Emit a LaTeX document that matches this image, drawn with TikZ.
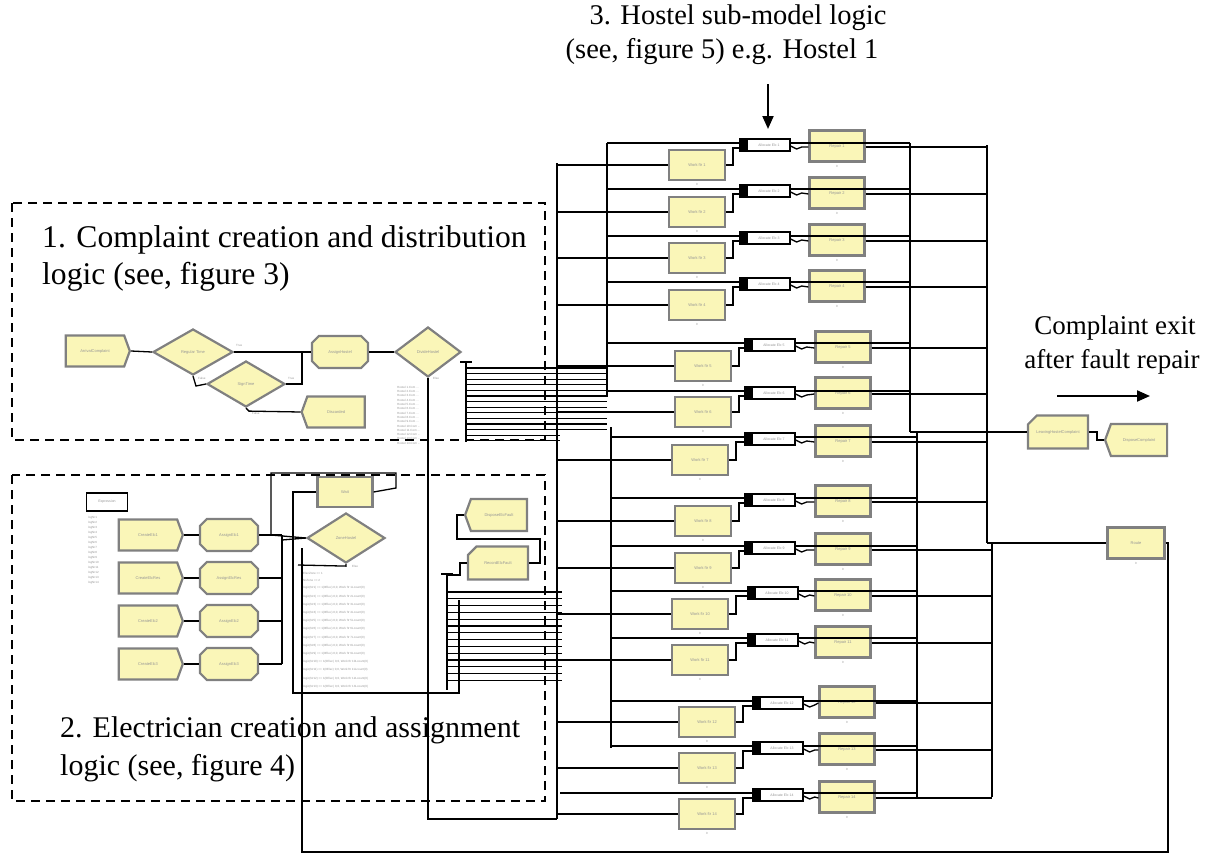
\documentclass[tikz,border=0pt]{standalone}
\usepackage{fontspec}
\setmainfont{Liberation Serif}
\newfontfamily\tinyf{Liberation Sans}
\usetikzlibrary{shapes.geometric,shapes.symbols,shapes.misc,arrows.meta}
\definecolor{ayellow}{RGB}{250,246,184}
\definecolor{agray}{RGB}{128,128,128}
\definecolor{lgray}{RGB}{150,150,150}
\begin{document}
\begin{tikzpicture}[x=1pt,y=-1pt,
  wire/.style={draw=black, line width=1.3pt},
  ab/.style={draw=agray, line width=2.2pt, fill=ayellow, inner sep=0pt, font=\tinyf\fontsize{4}{4}\selectfont, text=lgray},
  proc/.style={ab, rectangle, minimum width=56pt, minimum height=30pt},
  crt/.style={ab, signal, signal to=east, signal pointer angle=140, minimum width=64pt, minimum height=31pt},
  disp/.style={ab, signal, signal to=west, signal pointer angle=140, minimum width=62pt, minimum height=32pt},
  asg/.style={ab, chamfered rectangle, chamfered rectangle xsep=5pt, chamfered rectangle ysep=5pt, minimum width=56pt, minimum height=32pt},
  rec/.style={ab, chamfered rectangle, chamfered rectangle corners=north west, chamfered rectangle xsep=7pt, chamfered rectangle ysep=7pt, minimum width=60pt, minimum height=33pt},
  dec/.style={ab, diamond, minimum width=78pt, minimum height=46pt},
  alloc/.style={draw=black, line width=1.3pt, fill=white, rectangle, minimum width=50pt, minimum height=12pt, inner sep=0pt, font=\tinyf\fontsize{3.5}{3.5}\selectfont, text=lgray},
  expr/.style={draw=black, line width=1.5pt, fill=white, rectangle, minimum width=41pt, minimum height=18pt, inner sep=0pt, font=\tinyf\fontsize{3.5}{3.5}\selectfont, text=lgray},
  tiny/.style={inner sep=0pt, font=\tinyf\fontsize{3}{3}\selectfont, text=lgray, anchor=west},
  cnt/.style={inner sep=0pt, font=\tinyf\fontsize{3}{3}\selectfont, text=lgray},
  big/.style={inner sep=0pt, font=\fontsize{30}{36}\selectfont, anchor=west},
  bigA/.style={inner sep=0pt, font=\fontsize{31.6}{38}\selectfont, anchor=west},
  ttl/.style={inner sep=0pt, font=\fontsize{28.5}{34}\selectfont},
  exl/.style={inner sep=0pt, font=\fontsize{27}{32}\selectfont},
  grp/.style={draw=black, line width=1.6pt, dash pattern=on 9pt off 6pt}
]
\useasboundingbox (0,0) rectangle (1205,854);

% ---------- big labels ----------
\node[ttl] (t3a) at (738,18) {3. Hostel sub-model logic};
\node[ttl] (t3b) at (722,52) {(see, figure 5) e.g. Hostel 1};
\coordinate (ar3s) at (768,84);
\coordinate (ar3e) at (768,129);
\draw[line width=2pt, -{Triangle[length=13pt,width=11pt]}] (ar3s) -- (ar3e);

\node[exl] (ex1) at (1115,328) {Complaint exit};
\node[exl] (ex2) at (1112,362) {after fault repair};
\coordinate (arxs) at (1057,396);
\coordinate (arxe) at (1150,396);
\draw[line width=2pt, -{Triangle[length=13pt,width=11pt]}] (arxs) -- (arxe);

% ---------- group boxes ----------
\draw[grp] (12,203) rectangle (545,440);
\draw[grp] (12,475) rectangle (545,801);
\node[bigA] (t1a) at (42,240) {1. Complaint creation and distribution};
\node[bigA] (t1b) at (42,277) {logic (see, figure 3)};
\node[big] (t2a) at (60,730) {2. Electrician creation and assignment};
\node[big] (t2b) at (60,768) {logic (see, figure 4)};

% ---------- global rails / buses ----------
\draw[wire] (557,163) -- (557,819);
\draw[wire] (607,143) -- (607,397);
\draw[wire] (611,427) -- (611,748);
\draw[wire] (910,143) -- (910,432);
\draw[wire] (917,432) -- (917,797);
\draw[wire] (992,543) -- (992,797);

% box 1 bundle
\draw[wire] (466,362) -- (466,442);
\draw[wire] (460,362) -- (472,362);
\foreach \k in {0,...,11} \draw[line width=1.1pt] (466,368+5.6*\k) -- (607,368+5.6*\k);
\foreach \k in {12,13} \draw[line width=1.1pt] (466,368+5.6*\k) -- (560,368+5.6*\k);
% box 2 bundle
\draw[wire] (447,574) -- (447,690);
\draw[wire] (441,574) -- (453,574);
\foreach \k in {0,...,13} \draw[line width=1.1pt] (447,592+6.8*\k) -- (562,592+6.8*\k);

% ---------- hostel rows ----------
\foreach \i/\wx/\wy/\ax/\ay/\rx/\ry/\xl/\xr/\xo in {
  1/697/165/765/145/837/146/607/910/987,
  2/697/212/765/191/837/193/607/910/987,
  3/697/258/765/238/837/240/607/910/987,
  4/697/305/765/284/837/286/607/910/987,
  5/703/366/770/345/843/347/607/910/987,
  6/703/412/770/393/843/393/607/910/987,
  7/700/460/770/439/843/441/611/917/987,
  8/703/521/770/500/843/501/611/917/987,
  9/703/568/770/548/843/549/611/917/992,
  10/700/614/773/593/843/595/611/917/992,
  11/700/660/773/640/843/642/611/917/992,
  12/707/722/778/703/847/702/611/917/992,
  13/707/768/778/748/847/749/611/917/992,
  14/707/814/778/795/847/797/560/917/992}{
  \node[proc] (w\i) at (\wx,\wy) {Work ftr \i};
  \node[cnt] (wc\i) at (\wx,\wy+19) {0};
  \node[proc, minimum width=55pt, minimum height=31pt] (r\i) at (\rx,\ry) {Repair \i};
  \node[cnt] (rc\i) at (\rx,\ry+20) {0};
  \node[alloc] (a\i) at (\ax,\ay) {\hspace{8pt}Allocate Elc \i};
  \fill ([xshift=2pt,yshift=5pt]a\i.west) rectangle ([xshift=9pt,yshift=-5pt]a\i.west);
  \draw[wire] (\xl,\ay-2) -- ([yshift=2pt]a\i.west);
  \draw[wire] ([yshift=2pt]a\i.east) -- (\xr,\ay-2);
  \draw[wire] (557,\wy) -- (w\i.west);
  \draw[wire] (w\i.east) -- ++(7,0) |- ([yshift=-3pt]a\i.west);
  \draw[wire] ([yshift=-1pt]a\i.east) -- ++(6,3) -- ++(5,-2) -- ([yshift=-1pt]r\i.west);
  \draw[wire] ([yshift=-1pt]r\i.east) -- (\xo,\ry+1);
}

% ---------- right side ----------
\node[rec] (L) at (1058,432) {LeavingHostelComplaint};
\node[disp] (DC) at (1139,440) {DisposeComplaint};
\node[proc, minimum width=57pt, minimum height=31pt] (Rt) at (1136,543) {Route};
\node[cnt] (Rtc) at (1136,563) {0};
\draw[wire] (910,432) -- (L.west);
\draw[wire] (L.east) -- (1097,432) -- (1097,440) -- (DC.west);
\draw[draw=black, line width=2.8pt] (987,145) -- (987,543);
\draw[wire] (987,543) -- (Rt.west);
\draw[wire] (Rt.east) -- (1168,543) -- (1168,852) -- (302,852) -- (302,548);

% ---------- box 1: complaint creation ----------
\node[crt] (Ar) at (95,351) {ArrivalComplaint};
\node[dec, minimum width=80pt] (Rg) at (193,352) {Regular Time};
\node[dec] (Sg) at (246,384) {SignTime};
\node[asg] (As) at (340,352) {AssignHostel};
\node[dec, minimum width=66pt, minimum height=50pt] (Dv) at (428,352) {DivideHostel};
\node[disp, minimum width=63pt, minimum height=31pt] (Ds) at (336,412) {Discarded};
\draw[wire] (Ar.east) -- (Rg.west);
\draw[wire] (Rg.east) -- (As.west);
\draw[wire] (Sg.east) -- (302,384) -- (302,352);
\draw[wire] (Rg.south) -- (196,386) -- (Sg.west);
\draw[wire] (Sg.south) -- ++(3,3) -- (Ds.west);
\draw[wire] (As.east) -- (Dv.west);
\draw[wire] (Dv.south) -- (428,819) -- (557,819);
\node[tiny] (lt1) at (236,345) {True};
\node[tiny] (lf1) at (198,378) {False};
\node[tiny] (lt2) at (288,378) {True};
\node[tiny] (lf2) at (252,413) {False};
\node[tiny] (ld) at (433,378) {Else};
\foreach \k in {1,...,14} \node[tiny] (dl\k) at (397,383+4.3*\k) {Hostel \k.Com ...};

% ---------- box 2: electricians ----------
\node[expr] (Ex) at (107,502) {Expression};
\foreach \k in {1,...,14} \node[tiny] (el\k) at (88,513+5*\k) {logNr\k};
\foreach \j/\yy/\cn/\an in {1/535/CreateElc1/AssignElc1, 2/578/CreateElcRes/AssignElcRes, 3/621/CreateElc2/AssignElc2, 4/664/CreateElc3/AssignElc3}{
  \node[crt, minimum width=64pt, minimum height=31pt] (C\j) at (148,\yy) {\cn};
  \node[asg, minimum width=58pt] (A\j) at (229,\yy) {\an};
  \draw[wire] (C\j.east) -- (A\j.west);
  \draw[wire] (A\j.east) -- (282,\yy);
}
\draw[wire] (282,535) -- (282,664);
\node[proc, minimum width=55pt] (Wt) at (345,492) {Wait};
\node[dec, minimum height=50pt] (Zn) at (346,538) {ZoneHostel};
\draw[wire] (Wt.east) -- (396,488) -- (396,473) -- (271,473) -- (271,535) -- (Zn.west);
\draw[wire] (282,540) -- (Zn.west);
\draw[wire] (Wt.west) -- (293,492) -- (293,693) -- (459,693) -- (459,600);
\draw[wire] (Zn.south) -- ++(0,2) -- (298,565);
\node[tiny] (lz) at (352,566) {Else};
\node[tiny] (zl1) at (303,573) {ElecZone == 1};
\node[tiny] (zl2) at (303,580) {NrZone == 2};
\foreach \k in {1,...,13} \node[tiny] (zl\k x) at (303,580+8.2*\k) {logic(Nr\k) == 1(0Elec) 0,0, Work ftr \k Lcount(0)};
\node[disp] (DE) at (499,515) {DisposeElcFault};
\node[rec, minimum width=60pt] (RE) at (498,563) {RecordElcFault};
\draw[wire] (RE.east) -- (540,563) -- (540,539) -- (457,539) -- (457,515) -- (DE.west);
\draw[wire] (RE.west) -- (460,563) -- (460,575) -- (447,575);
\end{tikzpicture}
\end{document}
